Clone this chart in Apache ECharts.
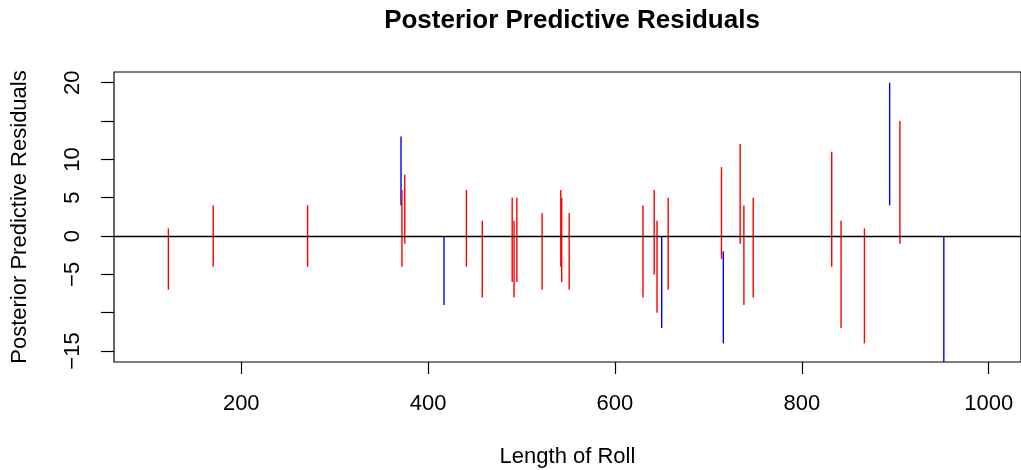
<!DOCTYPE html>
<html>
<head>
<meta charset="utf-8">
<script src="https://cdn.jsdelivr.net/npm/echarts@6/dist/echarts.min.js"></script>
<style>
html,body{margin:0;padding:0;background:#fff;}
#c{width:1021px;height:470px;}
</style>
</head>
<body>
<div id="c"></div>
<script>
// Roll lengths (x) and residual interval ends (low, high)
var rollLength = [122, 170, 271, 371, 372, 375, 417, 441, 458, 490, 492, 495, 522, 542, 543, 551,
                  630, 642, 645, 650, 657, 714, 716, 734, 738, 748, 832, 842, 867, 894, 905, 952];
var residLow   = [-7, -4, -4, 4, -4, -1, -9, -4, -8, -6, -8, -6, -7, -4, -6, -7,
                  -8, -5, -10, -12, -7, -3, -14, -1, -9, -8, -4, -12, -14, 4, -1, -17];
var residHigh  = [1, 4, 4, 13, 6, 8, 0, 6, 2, 5, 2, 5, 3, 6, 5, 3,
                  4, 6, 2, 0, 5, 9, -2, 12, 4, 5, 11, 2, 1, 20, 15, 0];
var xTicks = [200, 400, 600, 800, 1000];
var yTicks = [-15, -10, -5, 0, 5, 10, 15, 20];
var yLabels = [-15, -5, 0, 5, 10, 20];

var segData = rollLength.map(function (x, i) { return [x, residLow[i], residHigh[i]]; });

var font = 'Liberation Sans, Arial, Helvetica, sans-serif';
var chart = echarts.init(document.getElementById('c'), null, {renderer: 'canvas'});
chart.setOption({
  animation: false,
  backgroundColor: '#fff',
  textStyle: {fontFamily: font},
  title: {
    text: 'Posterior Predictive Residuals',
    left: 567, top: 3, textAlign: 'center',
    textStyle: {fontFamily: font, fontSize: 26, fontWeight: 'bold', color: '#000'}
  },
  grid: {left: 114, right: 0, top: 72, bottom: 108, show: true, borderColor: '#000', borderWidth: 1.2,
    backgroundColor: 'transparent', outerBoundsMode: 'none', containLabel: false},
  xAxis: {
    type: 'value', min: 63.8, max: 1034.6,
    name: 'Length of Roll', nameLocation: 'middle', nameGap: 84,
    nameTextStyle: {fontFamily: font, fontSize: 22, color: '#000'},
    axisLine: {show: false, onZero: false},
    splitLine: {show: false},
    axisTick: {show: true, length: 12, customValues: xTicks, lineStyle: {color: '#000', width: 1.2}},
    axisLabel: {customValues: xTicks, margin: 31, fontSize: 22, color: '#000', fontFamily: font,
      formatter: function (v) { return String(v); }}
  },
  yAxis: {
    type: 'value', min: -16.43, max: 21.4,
    name: 'Posterior Predictive Residuals', nameLocation: 'middle', nameGap: 83, nameRotate: 90,
    nameTextStyle: {fontFamily: font, fontSize: 22, color: '#000'},
    axisLine: {show: false, onZero: false},
    splitLine: {show: false},
    axisTick: {show: true, length: 13, customValues: yTicks, lineStyle: {color: '#000', width: 1.2}},
    axisLabel: {customValues: yLabels, rotate: 90, margin: 30, align: 'center', verticalAlign: 'bottom',
      fontSize: 22, color: '#000', fontFamily: font,
      formatter: function (v) { return String(v).replace('-', '\u2212'); }}
  },
  series: [{
    type: 'custom',
    data: segData,
    clip: true,
    encode: {x: 0, y: [1, 2]},
    renderItem: function (params, api) {
      var x = api.value(0), lo = api.value(1), hi = api.value(2);
      var p1 = api.coord([x, lo]), p2 = api.coord([x, hi]);
      var excludesZero = (lo > 0 || hi <= 0);
      return {
        type: 'line',
        shape: {x1: p1[0], y1: p1[1], x2: p2[0], y2: p2[1]},
        style: {stroke: excludesZero ? '#0000FF' : '#FF0000', lineWidth: 1.4}
      };
    },
    markLine: {
      silent: true, symbol: 'none', animation: false,
      label: {show: false},
      lineStyle: {color: '#000', width: 1.3, type: 'solid'},
      data: [{yAxis: 0}]
    }
  }]
});
</script>
</body>
</html>
